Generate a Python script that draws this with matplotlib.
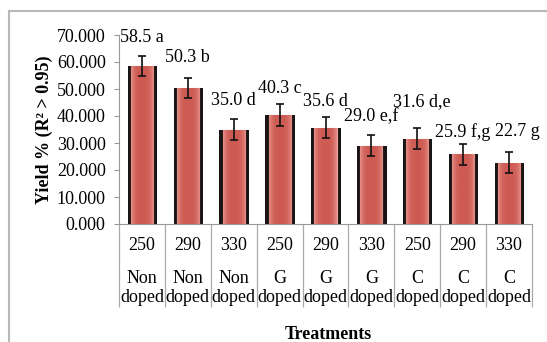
import matplotlib.pyplot as plt
import matplotlib.transforms as mtransforms
from matplotlib.patches import Rectangle
import numpy as np

# data
temps = ['250', '290', '330', '250', '290', '330', '250', '290', '330']
groups = ['Non\ndoped', 'Non\ndoped', 'Non\ndoped', 'G\ndoped', 'G\ndoped', 'G\ndoped',
          'C\ndoped', 'C\ndoped', 'C\ndoped']
yield_pct = [58.5, 50.3, 35.0, 40.3, 35.6, 29.0, 31.6, 25.9, 22.7]
errors = [3.8, 3.8, 3.9, 4.0, 3.9, 3.8, 3.9, 3.9, 3.8]
letters = ['a', 'b', 'd', 'c', 'd', 'e,f', 'd,e', 'f,g', 'g']
yticks = [0, 10, 20, 30, 40, 50, 60, 70]

# label nudges (pixels) as placed in the original
lab_dx = [0, 0, 0, 0, 0, 0, 5, 0, 8]
lab_dy = [29, 31, 29, 27, 26, 29, 37, 22, 31]

plt.rcParams['font.family'] = 'Liberation Serif'
plt.rcParams['font.size'] = 13

fig = plt.figure(figsize=(5.47, 3.42), dpi=100)
W, H = 547, 342
ax = fig.add_axes([119 / W, (H - 224) / H, (532 - 119) / W, (224 - 35) / H])

# outer chart frame (only top and left visible)
fig.patches.append(Rectangle((9 / W, -0.1), 1.2, (H - 11) / H + 0.1, transform=fig.transFigure,
                             fill=False, edgecolor='#b8b8b8', linewidth=1.5))

x = np.arange(len(yield_pct))
ax.bar(x + 0.01, yield_pct, width=0.64, color='#1a1414', zorder=2)
bars = ax.bar(x, yield_pct, width=0.48, color='#cf5c55', edgecolor='#e8a39c', linewidth=0.8, zorder=3)

# glossy horizontal shading on each bar
grad = np.abs(np.linspace(-1, 1, 64))[None, :] ** 3
cmap = plt.matplotlib.colors.LinearSegmentedColormap.from_list('shade', ['#cd5a53', '#e69089'])
for b in bars:
    im = ax.imshow(grad, extent=[b.get_x(), b.get_x() + b.get_width(), 0, b.get_height()],
                   aspect='auto', cmap=cmap, zorder=3.5)
    im.set_clip_path(b)

ax.errorbar(x, yield_pct, yerr=errors, fmt='none', ecolor='#111111', elinewidth=1.2,
            capsize=2.8, capthick=1.2, zorder=5)

for xi, v, l, dx, dy in zip(x, yield_pct, letters, lab_dx, lab_dy):
    ax.annotate(f'{v:.1f} {l}', (xi, v), xytext=(dx * 0.72, dy * 0.72),
                textcoords='offset points', ha='center', va='center')

ax.set_xlim(-0.5, len(yield_pct) - 0.5)
ax.set_ylim(0, 70)
ax.set_yticks(yticks)
ax.set_yticklabels([f'{t:.3f}' for t in yticks])
ax.tick_params(axis='y', length=3.6, width=0.8, color='#999999', pad=6)
ax.set_xticks([])
for s in ['top', 'right']:
    ax.spines[s].set_visible(False)
ax.spines['left'].set_color('#999999')
ax.spines['bottom'].set_color('#999999')

# category table below the axis
trans = mtransforms.blended_transform_factory(ax.transData, ax.transAxes)
ax.vlines(np.arange(len(yield_pct) + 1) - 0.5, -0.439, 0, transform=trans,
          colors='#aaaaaa', linewidth=0.9, clip_on=False)
for xi, t, g in zip(x, temps, groups):
    ax.text(xi, -0.116, t, transform=trans, ha='center', va='center')
    ax.text(xi, -0.339, g, transform=trans, ha='center', va='center', linespacing=1.15)

ax.set_ylabel('Yield % (R² > 0.95)', fontweight='bold')
ax.yaxis.set_label_coords(-0.16, 0.5)
ax.text(0.507, -0.587, 'Treatments', transform=ax.transAxes, ha='center', va='center',
        fontweight='bold')

fig.savefig('out.png', dpi=100)
